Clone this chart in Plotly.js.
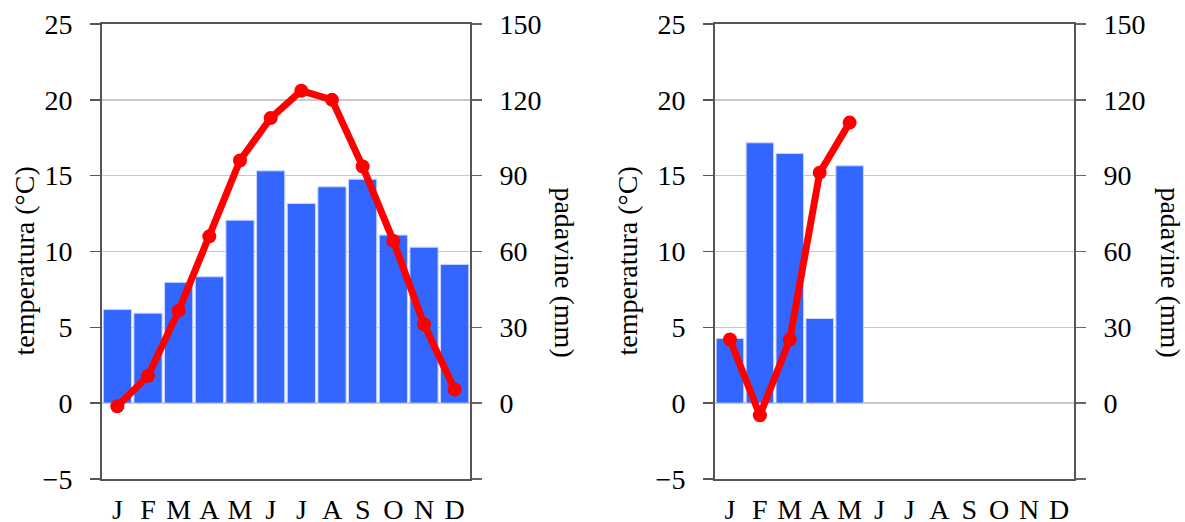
<!DOCTYPE html>
<html>
<head>
<meta charset="utf-8">
<script src="https://cdn.plot.ly/plotly-3.0.1.min.js"></script>
<style>html,body{margin:0;padding:0;background:#fff;}#chart{width:1185px;height:522px;}</style>
</head>
<body>
<div id="chart"></div>
<script>
// Data
const months = ["J","F","M","A","M","J","J","A","S","O","N","D"];
const precipLeft = [37.1, 35.6, 47.8, 50.0, 72.4, 91.9, 79.0, 85.6, 88.6, 66.5, 61.7, 54.9];
const tempLeft = [-0.2, 1.8, 6.1, 11.0, 16.0, 18.8, 20.6, 20.0, 15.6, 10.7, 5.2, 0.9];
const precipRight = [25.6, 103.0, 98.8, 33.5, 93.9];
const tempRight = [4.2, -0.8, 4.2, 15.2, 18.5];
const tempTicks = [-5, 0, 5, 10, 15, 20, 25];
const precipTicks = [-30, 0, 30, 60, 90, 120, 150];
const precipTickText = ["", "0", "30", "60", "90", "120", "150"];

const idx = months.map((_, i) => i);
const FONT = "Liberation Serif, Times New Roman, serif";
const BLUE = "#3366FF";
const RED = "#FF0000";

function barTrace(vals, xa, ya) {
  return {
    type: "bar", x: idx.slice(0, vals.length), y: vals, xaxis: xa, yaxis: ya,
    marker: {color: BLUE, line: {color: "#c9d6ff", width: 1}},
    hoverinfo: "skip", showlegend: false
  };
}
function lineTrace(vals, xa, ya) {
  return {
    type: "scatter", mode: "lines+markers", x: idx.slice(0, vals.length), y: vals,
    xaxis: xa, yaxis: ya,
    line: {color: RED, width: 7},
    marker: {color: RED, size: 14},
    hoverinfo: "skip", showlegend: false, cliponaxis: false
  };
}

const data = [
  barTrace(precipLeft, "x", "y"),
  lineTrace(tempLeft, "x", "y2"),
  barTrace(precipRight, "x2", "y3"),
  lineTrace(tempRight, "x2", "y4")
];

function xAxis(domain, anchor) {
  return {
    domain: domain, anchor: anchor, range: [-0.5, 11.5],
    tickvals: idx, ticktext: months, ticks: "", showgrid: false, zeroline: false,
    showline: true, mirror: true, linecolor: "#555", linewidth: 2,
    tickfont: {family: FONT, size: 28, color: "#000"}, ticklabelstandoff: 4,
    fixedrange: true
  };
}
function precipAxis(anchor) {
  return {
    anchor: anchor, side: "right", range: [-30, 150],
    tickvals: precipTicks, ticktext: precipTickText,
    ticks: "outside", ticklen: 10, tickwidth: 1.5, tickcolor: "#666",
    showgrid: true, gridcolor: "#c8c8c8", gridwidth: 1.5, zeroline: false,
    showline: true, linecolor: "#555", linewidth: 2,
    tickfont: {family: FONT, size: 28, color: "#000"}, ticklabelstandoff: 12,
    fixedrange: true
  };
}
function tempAxis(overlay, anchor) {
  return {
    overlaying: overlay, anchor: anchor, side: "left", range: [-5, 25],
    tickvals: tempTicks,
    ticks: "outside", ticklen: 10, tickwidth: 1.5, tickcolor: "#555",
    showgrid: false, zeroline: false,
    showline: true, linecolor: "#555", linewidth: 2,
    tickfont: {family: FONT, size: 28, color: "#000"}, ticklabelstandoff: 12,
    fixedrange: true
  };
}

const W = 1185;
const titleFont = {family: FONT, size: 28, color: "#000"};
function ann(text, xpx, ypaper, angle) {
  return {text: text, xref: "paper", yref: "paper", x: xpx / W, y: ypaper,
    xanchor: "center", yanchor: "middle", showarrow: false, textangle: angle, font: titleFont};
}

const layout = {
  width: 1185, height: 522,
  margin: {l: 0, r: 0, t: 24, b: 43, pad: 0},
  paper_bgcolor: "#fff", plot_bgcolor: "#fff",
  bargap: 0.08,
  showlegend: false,
  font: {family: FONT, size: 28, color: "#000"},
  xaxis: xAxis([102 / W, 470 / W], "y"),
  yaxis: precipAxis("x"),
  yaxis2: tempAxis("y", "x"),
  xaxis2: xAxis([715 / W, 1074 / W], "y3"),
  yaxis3: precipAxis("x2"),
  yaxis4: tempAxis("y3", "x2"),
  annotations: [
    ann("temperatura (°C)", 25, 0.478, -90),
    ann("padavine (mm)", 565, 0.454, 90),
    ann("temperatura (°C)", 628, 0.478, -90),
    ann("padavine (mm)", 1171, 0.454, 90)
  ]
};

Plotly.newPlot("chart", data, layout, {staticPlot: true, displayModeBar: false});
</script>
</body>
</html>
